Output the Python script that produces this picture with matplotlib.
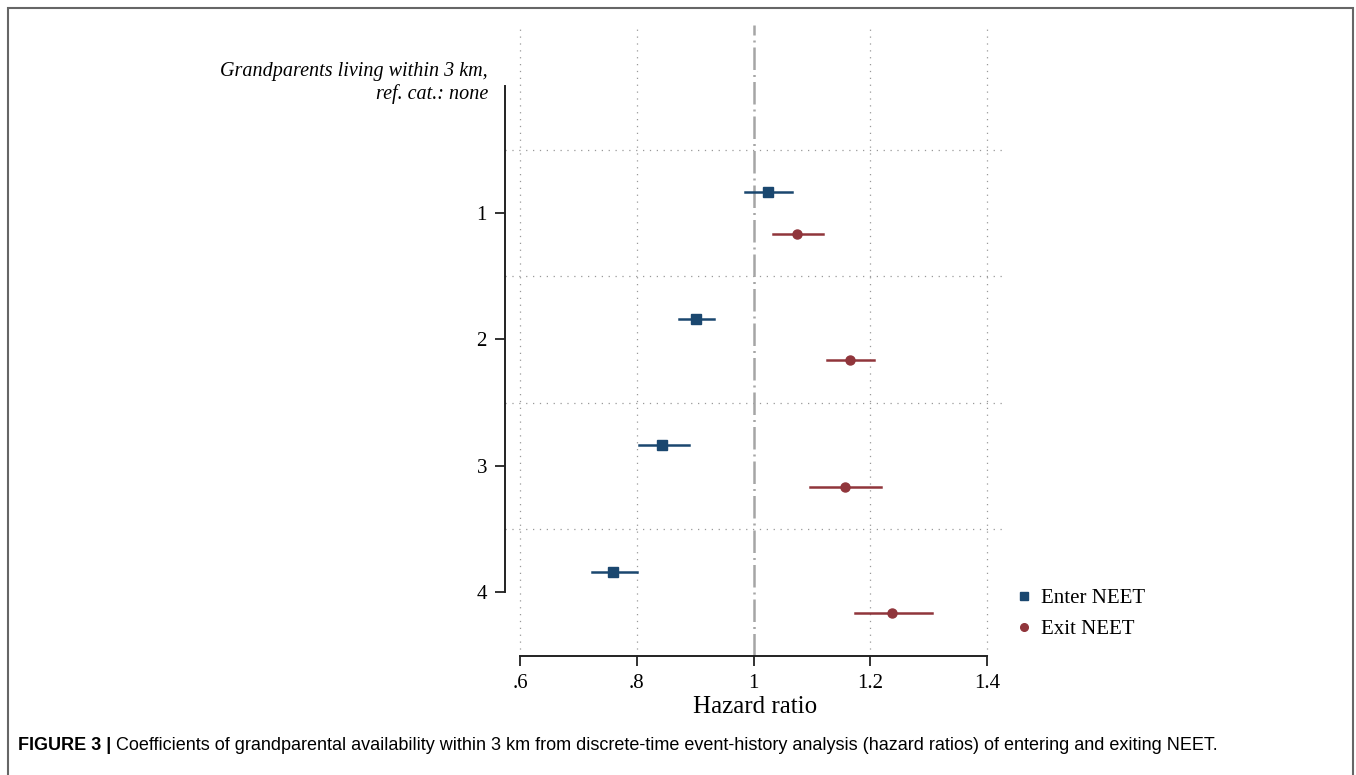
import matplotlib.pyplot as plt
import matplotlib.transforms as mtransforms
from matplotlib.lines import Line2D
from matplotlib.patches import Rectangle

# hazard ratios
categories = ["1", "2", "3", "4"]
header = "Grandparents living within 3 km,\nref. cat.: none"
enter_hr = [1.025, 0.901, 0.844, 0.760]
enter_lo = [0.985, 0.872, 0.803, 0.724]
enter_hi = [1.066, 0.932, 0.890, 0.800]
exit_hr = [1.075, 1.165, 1.156, 1.237]
exit_lo = [1.033, 1.126, 1.097, 1.173]
exit_hi = [1.119, 1.206, 1.218, 1.305]
xticks = [0.6, 0.8, 1.0, 1.2, 1.4]
xticklabels = [".6", ".8", "1", "1.2", "1.4"]

blue = "#1a476f"
red = "#90353b"
serif = "Liberation Serif"

fig = plt.figure(figsize=(13.56, 7.75), dpi=100)
W, H = 1356, 775
ax = fig.add_axes([505 / W, 1 - 656 / H, 500 / W, 631 / H])

ypos = [i + 1 for i in range(len(categories))]
off = 0.165

# grid and reference line
for x in [0.6, 0.8, 1.2, 1.4]:
    ax.axvline(x, color="#999999", lw=0.9, ls=(0, (1, 4.5)), zorder=1)
for y in [0.5, 1.5, 2.5, 3.5]:
    ax.axhline(y, color="#999999", lw=0.9, ls=(0, (1, 4.5)), zorder=1)
ax.axvline(1, color="#a5a5a5", lw=1.8, ls=(0, (9, 2, 0.8, 2)), zorder=1)

# confidence intervals + points
for i, y in enumerate(ypos):
    ax.plot([enter_lo[i], enter_hi[i]], [y - off] * 2, color=blue, lw=1.8, zorder=3)
    ax.plot([exit_lo[i], exit_hi[i]], [y + off] * 2, color=red, lw=1.8, zorder=3)
ax.plot(enter_hr, [y - off for y in ypos], ls="none", marker="s", ms=6.5,
        color=blue, zorder=4)
ax.plot(exit_hr, [y + off for y in ypos], ls="none", marker="o", ms=6.5,
        color=red, zorder=4)

ax.set_xlim(0.5743, 1.4308)
ax.set_ylim(4.502, -0.486)

for s in ["top", "right"]:
    ax.spines[s].set_visible(False)
ax.spines["left"].set_bounds(0, 4)
ax.spines["bottom"].set_bounds(0.6, 1.4)
for s in ["left", "bottom"]:
    ax.spines[s].set_linewidth(1.4)
    ax.spines[s].set_color("#222222")

ax.set_yticks(ypos)
ax.set_yticklabels(categories, fontfamily=serif, fontsize=15)
ax.set_xticks(xticks)
ax.set_xticklabels(xticklabels, fontfamily=serif, fontsize=15)
ax.tick_params(axis="both", length=7, width=1.3, color="#222222", pad=6)
ax.set_xlabel("Hazard ratio", fontfamily=serif, fontsize=18, labelpad=2)

tr = mtransforms.offset_copy(ax.get_yaxis_transform(), fig=fig, x=-17, y=0, units="dots")
ax.text(0, -0.03, header, transform=tr, ha="right", va="center",
        fontfamily=serif, fontstyle="italic", fontsize=14.5, linespacing=1.2)

handles = [
    Line2D([], [], ls="none", marker="s", ms=5.5, color=blue),
    Line2D([], [], ls="none", marker="o", ms=5.5, color=red),
]
fig.legend(handles, ["Enter NEET", "Exit NEET"], loc="center left",
           bbox_to_anchor=(995 / W, 1 - 614 / H), frameon=False,
           prop={"family": serif, "size": 15}, handlelength=1.0,
           handletextpad=0.3, labelspacing=0.55)

# outer frame and caption
fig.patches.append(Rectangle((8 / W, -0.01), 1345 / W, 1 - 8 / H + 0.01,
                             transform=fig.transFigure, fill=False,
                             edgecolor="#666666", lw=1.5))
t1 = fig.text(18 / W, 1 - 745 / H, "FIGURE 3 |", fontfamily="Liberation Sans",
              fontweight="bold", fontsize=13, va="center")
fig.canvas.draw()
bb = t1.get_window_extent()
fig.text((bb.x1 + 5) / W, 1 - 745 / H,
         "Coefficients of grandparental availability within 3 km from discrete-time "
         "event-history analysis (hazard ratios) of entering and exiting NEET.",
         fontfamily="Liberation Sans", fontsize=13, va="center")

fig.savefig("out.png", dpi=100)
